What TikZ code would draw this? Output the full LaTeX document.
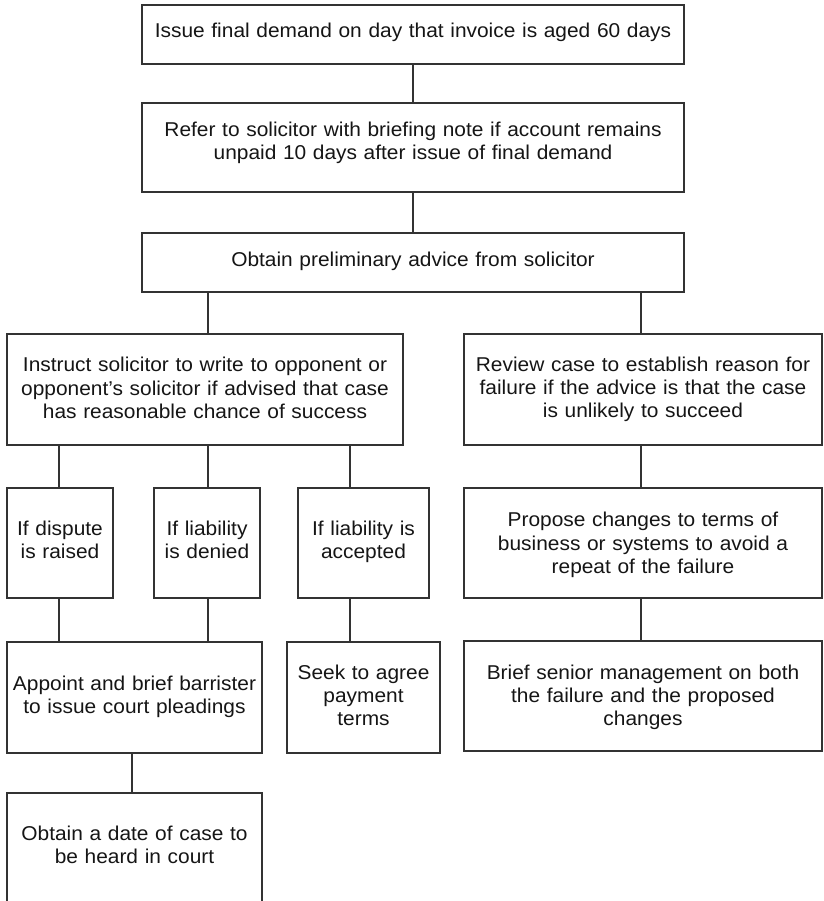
\documentclass[tikz,border=0pt]{standalone}
\usepackage{fontspec}
\setmainfont{Liberation Sans}[FakeStretch=1.045]
\definecolor{linecol}{HTML}{333333}
\definecolor{textcol}{HTML}{151515}

% \flowbox{name}{left}{top}{right}{bottom}{first baseline}{text}
\newcommand{\flowbox}[7]{%
  \pgfmathsetmacro{\boxw}{#4-#2}%
  \pgfmathsetmacro{\boxh}{#5-#3}%
  \node[box, minimum width=\boxw pt, minimum height=\boxh pt] (#1) at ({(#2+#4)/2},{(#3+#5)/2}) {};%
  \node[txt, text width=\boxw pt, anchor=base] (#1t) at ({(#2+#4)/2},#6) {#7};%
}

\begin{document}
\begin{tikzpicture}[x=1pt,y=-1pt,
  box/.style={draw=linecol, line width=1.2pt, inner sep=0pt, outer sep=0pt},
  txt/.style={inner sep=0pt, outer sep=0pt, align=center, text=textcol,
    font=\fontsize{20pt}{23.3pt}\selectfont},
  link/.style={draw=linecol, line width=1.2pt}]
\useasboundingbox (0,0) rectangle (823,901);
\clip (0,0) rectangle (823,901);

% main trunk
\flowbox{b1}{142}{5}{684}{64}{37.7}{Issue final demand on day that invoice is aged 60 days}
\flowbox{b2}{142}{103}{684}{192}{136.7}{Refer to solicitor with briefing note if account remains\\unpaid 10 days after issue of final demand}
\flowbox{b3}{142}{233}{684}{292}{266.7}{Obtain preliminary advice from solicitor}

% the two branches
\flowbox{b4}{7}{334}{403}{445}{371.7}{Instruct solicitor to write to opponent or\\opponent’s solicitor if advised that case\\has reasonable chance of success}
\flowbox{b5}{464}{334}{822}{445}{371}{Review case to establish reason for\\failure if the advice is that the case\\is unlikely to succeed}

% outcomes of the letter
\flowbox{b6}{7}{488}{113}{598}{535}{If dispute\\is raised}
\flowbox{b7}{154}{488}{260}{598}{535}{If liability\\is denied}
\flowbox{b8}{298}{488}{429}{598}{535}{If liability is\\accepted}
\flowbox{b12}{464}{488}{822}{598}{526.7}{Propose changes to terms of\\business or systems to avoid a\\repeat of the failure}

% follow-up actions
\flowbox{b9}{7}{642}{262}{753}{690}{Appoint and brief barrister\\to issue court pleadings}
\flowbox{b10}{287}{642}{440}{753}{679}{Seek to agree\\payment\\terms}
\flowbox{b13}{464}{641}{822}{751}{679}{Brief senior management on both\\the failure and the proposed\\changes}
\flowbox{b11}{7}{793}{262}{940}{840}{Obtain a date of case to\\be heard in court}

% connectors
\draw[link] (b1.south) -- (b2.north);
\draw[link] (b2.south) -- (b3.north);
\draw[link] ([xshift=3pt]b4.north) -- ([xshift=3pt]b4.north |- b3.south);
\draw[link] ([xshift=-2pt]b5.north) -- ([xshift=-2pt]b5.north |- b3.south);
\draw[link] ([xshift=-1pt]b6.north) -- ([xshift=-1pt]b6.north |- b4.south);
\draw[link] ([xshift=1pt]b7.north) -- ([xshift=1pt]b7.north |- b4.south);
\draw[link] ([xshift=-13.5pt]b8.north) -- ([xshift=-13.5pt]b8.north |- b4.south);
\draw[link] ([xshift=-2pt]b12.north) -- ([xshift=-2pt]b12.north |- b5.south);
\draw[link] ([xshift=-1pt]b6.south) -- ([xshift=-1pt]b6.south |- b9.north);
\draw[link] ([xshift=1pt]b7.south) -- ([xshift=1pt]b7.south |- b9.north);
\draw[link] ([xshift=-13.5pt]b8.south) -- ([xshift=-13.5pt]b8.south |- b10.north);
\draw[link] ([xshift=-2pt]b12.south) -- ([xshift=-2pt]b12.south |- b13.north);
\draw[link] ([xshift=-2.5pt]b9.south) -- ([xshift=-2.5pt]b9.south |- b11.north);
\end{tikzpicture}
\end{document}
